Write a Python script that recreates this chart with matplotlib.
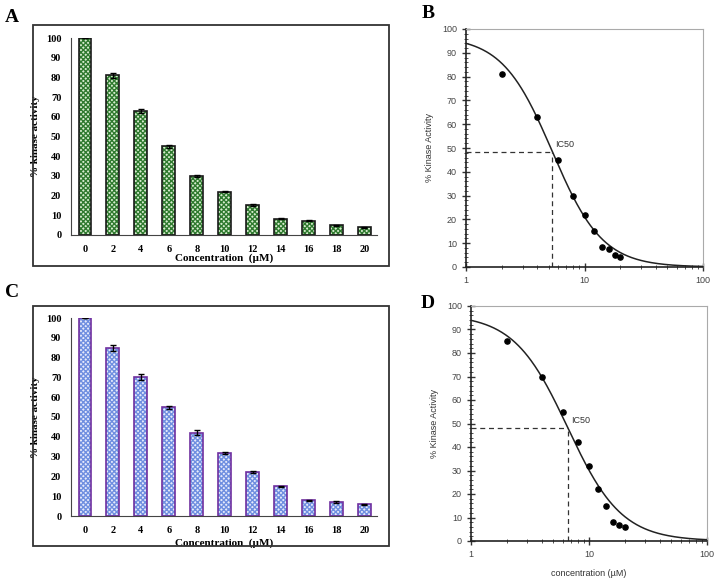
import numpy as np
import matplotlib.pyplot as plt
from matplotlib.patches import Rectangle
from matplotlib.ticker import MultipleLocator, LogLocator, NullFormatter

# bar data (panels A and C)
conc = [0, 2, 4, 6, 8, 10, 12, 14, 16, 18, 20]
act_a = [100, 81, 63, 45, 30, 22, 15, 8.3, 7.3, 5, 4]
err_a = [0, 1.2, 1.2, 0.6, 0.7, 0.3, 0.5, 0.2, 0.2, 0.2, 0.2]
act_c = [100, 85, 70, 55, 42, 32, 22, 15, 8, 7, 6]
err_c = [0, 1.5, 1.5, 0.8, 1.2, 0.5, 0.5, 0.3, 0.3, 0.4, 0.2]

# dose-response points (panels B and D)
dose = [2, 4, 6, 8, 10, 12, 14, 16, 18, 20]
pts_b = [81, 63, 45, 30, 22, 15, 8.5, 7.5, 5, 4]
pts_d = [85, 70, 55, 42, 32, 22, 15, 8, 7, 6]

# fitted logistic parameters (top, IC50, hill slope)
fit_b = (97.0, 5.35, 2.05)
fit_d = (96.5, 6.6, 1.9)

W, H = 717, 579
fig = plt.figure(figsize=(W / 100, H / 100), dpi=100)


def fbox(x0, y0, x1, y1):
    # pixel box -> figure fraction [left, bottom, width, height]
    return [x0 / W, 1 - y1 / H, (x1 - x0) / W, (y1 - y0) / H]


serif = 'Liberation Serif'
sans = 'Liberation Sans'


def bar_panel(rect, frame, vals, errs, face, hatchc, edge, xlab_pad):
    fig.patches.append(Rectangle(frame[:2], frame[2], frame[3], transform=fig.transFigure,
                                 fill=False, edgecolor='#333333', linewidth=1.3))
    ax = fig.add_axes(rect)
    idx = np.arange(len(conc))
    ax.bar(idx, vals, width=0.46, color=face, hatch='xxxxxxx', edgecolor=hatchc, linewidth=0)
    ax.bar(idx, vals, width=0.46, fill=False, edgecolor=edge, linewidth=1.2)
    ax.errorbar(idx, vals, yerr=errs, fmt='none', ecolor='black', elinewidth=1, capsize=2, capthick=1)
    ax.set_xlim(-0.5, 10.45)
    ax.set_ylim(0, 100)
    ax.yaxis.set_major_locator(MultipleLocator(10))
    ax.set_xticks(idx)
    ax.set_xticklabels([str(c) for c in conc])
    ax.tick_params(length=0, labelsize=7.5, pad=7)
    for lab in ax.get_xticklabels() + ax.get_yticklabels():
        lab.set_fontfamily(serif)
        lab.set_fontweight('bold')
    for s in ['top', 'right']:
        ax.spines[s].set_visible(False)
    ax.spines['left'].set_color('#444444')
    ax.spines['bottom'].set_color('#444444')
    ax.set_ylabel('% kinase activity', family=serif, weight='bold', fontsize=8)
    ax.yaxis.set_label_coords(-0.102, 0.5)
    ax.set_xlabel('Concentration  (\u00b5M)', family=serif, weight='bold', fontsize=8, labelpad=xlab_pad)
    return ax


def curve_panel(rect, pts, fit, xlabel):
    ax = fig.add_axes(rect)
    top, ic50, hill = fit
    xs = np.logspace(0, 2, 300)
    ax.plot(xs, top / (1 + (xs / ic50) ** hill), color='#222222', linewidth=1.1)
    ax.scatter(dose, pts, s=14, color='black', zorder=3)
    y50 = top / 2
    ax.plot([1, ic50], [y50, y50], color='#333333', linestyle='--', linewidth=0.9, dashes=(4, 3))
    ax.plot([ic50, ic50], [0, y50], color='#333333', linestyle='--', linewidth=0.9, dashes=(4, 3))
    ax.text(ic50 * 1.06, y50 + 1, 'IC50', family=sans, fontsize=6.5, color='#333333', va='bottom')
    ax.set_xscale('log')
    ax.set_xlim(1, 100)
    ax.set_ylim(0, 100)
    ax.xaxis.set_major_locator(LogLocator(base=10))
    ax.xaxis.set_minor_locator(LogLocator(base=10, subs=np.arange(2, 10)))
    ax.xaxis.set_minor_formatter(NullFormatter())
    ax.set_xticks([1, 10, 100])
    ax.set_xticklabels(['1', '10', '100'])
    ax.yaxis.set_major_locator(MultipleLocator(10))
    ax.yaxis.set_minor_locator(MultipleLocator(2))
    ax.tick_params(which='major', direction='inout', length=6, width=1, labelsize=6.5,
                   colors='#333333', labelcolor='#444444')
    ax.tick_params(which='minor', direction='inout', length=3, width=0.6, colors='#333333')
    for lab in ax.get_xticklabels() + ax.get_yticklabels():
        lab.set_fontfamily(sans)
    for s in ['top', 'right']:
        ax.spines[s].set_color('#aaaaaa')
        ax.spines[s].set_linewidth(0.8)
    for s in ['left', 'bottom']:
        ax.spines[s].set_color('#222222')
        ax.spines[s].set_linewidth(1.2)
    ax.set_ylabel('% Kinase Activity', family=sans, fontsize=6.5, color='#333333', labelpad=6)
    if xlabel:
        ax.set_xlabel(xlabel, family=sans, fontsize=6.5, color='#333333', labelpad=7)
    return ax


bar_panel(fbox(71, 38, 377, 235), fbox(33, 25, 389, 266), act_a, err_a,
          '#d6ecce', '#2f7a2f', '#1a1a1a', 0)
bar_panel(fbox(71, 318, 377, 516), fbox(33, 306, 389, 546), act_c, err_c,
          '#e6eafb', '#6f8fe0', '#7030a0', 3)
curve_panel(fbox(466, 29, 703, 267), pts_b, fit_b, None)
curve_panel(fbox(471, 306, 707, 541), pts_d, fit_d, 'concentration (\u00b5M)')

for lbl, x, y in [('A', 12, 18), ('B', 428, 13), ('C', 12, 293), ('D', 428, 303)]:
    fig.text(x / W, 1 - y / H, lbl, family=serif, weight='bold', fontsize=14,
             ha='center', va='center')

fig.savefig('out.png', dpi=100)
